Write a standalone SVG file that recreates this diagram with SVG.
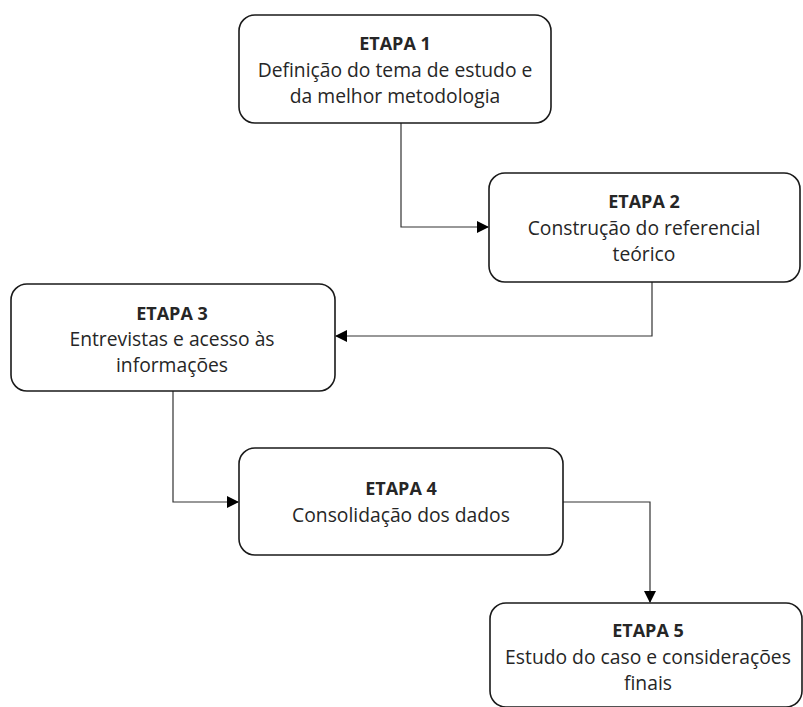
<svg xmlns="http://www.w3.org/2000/svg" width="803" height="707" viewBox="0 0 803 707">
<defs>
<style>
.box{fill:#fff;stroke:#1a1a1a;stroke-width:1.6}
.t{font-family:"Open Sans","Liberation Sans",sans-serif;font-size:19.3px;fill:#262626;text-anchor:middle}
.b{font-weight:bold;font-size:18px}
.c{fill:none;stroke:#333;stroke-width:1.2}
</style>
<marker id="ah" markerWidth="12" markerHeight="12" refX="11" refY="6" orient="auto" markerUnits="userSpaceOnUse">
<path d="M0,0 L12,6 L0,12 Z" fill="#000"/>
</marker>
</defs>
<rect width="803" height="707" fill="#fff"/>
<g id="connectors">
<path class="c" d="M401,123 V227 H488" marker-end="url(#ah)"/>
<path class="c" d="M652,282 V336 H336" marker-end="url(#ah)"/>
<path class="c" d="M173,391 V502 H238" marker-end="url(#ah)"/>
<path class="c" d="M563,502 H650 V602" marker-end="url(#ah)"/>
</g>
<g id="etapa1">
<rect class="box" x="239" y="15" width="312" height="108" rx="16"/>
<text class="t b" x="395" y="50">ETAPA 1</text>
<text class="t" x="395" y="77">Definição do tema de estudo e</text>
<text class="t" x="395" y="103">da melhor metodologia</text>
</g>
<g id="etapa2">
<rect class="box" x="489" y="173" width="311" height="109" rx="16"/>
<text class="t b" x="644" y="208">ETAPA 2</text>
<text class="t" x="644" y="235">Construção do referencial</text>
<text class="t" x="644" y="261">teórico</text>
</g>
<g id="etapa3">
<rect class="box" x="11" y="284" width="324" height="107" rx="16"/>
<text class="t b" x="172" y="320">ETAPA 3</text>
<text class="t" x="172" y="346">Entrevistas e acesso às</text>
<text class="t" x="172" y="372">informações</text>
</g>
<g id="etapa4">
<rect class="box" x="239" y="448" width="324" height="107" rx="16"/>
<text class="t b" x="401" y="495">ETAPA 4</text>
<text class="t" x="401" y="522">Consolidação dos dados</text>
</g>
<g id="etapa5">
<rect class="box" x="490" y="603" width="312" height="104" rx="16"/>
<text class="t b" x="648" y="637">ETAPA 5</text>
<text class="t" x="648" y="664">Estudo do caso e considerações</text>
<text class="t" x="648" y="690">finais</text>
</g>
</svg>
